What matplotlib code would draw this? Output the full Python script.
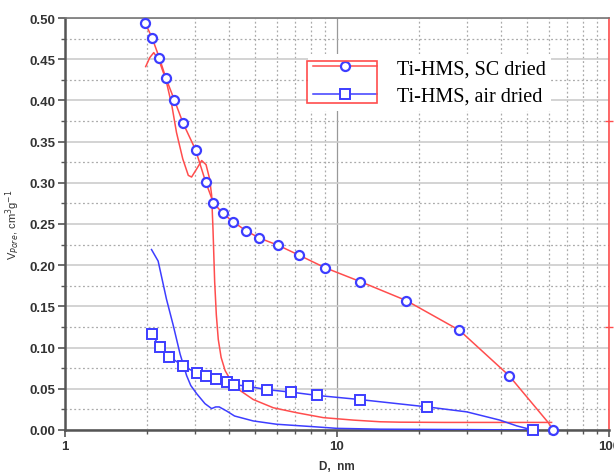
import matplotlib
matplotlib.use("Agg")
import matplotlib.pyplot as plt
from matplotlib.ticker import LogLocator, MultipleLocator, FormatStrFormatter, NullFormatter
from matplotlib.patches import Rectangle

# Ti-HMS, SC dried (marked points)
sc_d = [1.97, 2.09, 2.22, 2.35, 2.52, 2.72, 3.02, 3.29, 3.51, 3.80, 4.14, 4.62, 5.18,
        6.09, 7.27, 9.03, 12.2, 18.0, 28.2, 42.9, 59.8, 62.4]
sc_v = [0.494, 0.476, 0.452, 0.427, 0.401, 0.372, 0.340, 0.301, 0.276, 0.263, 0.253,
        0.242, 0.233, 0.224, 0.212, 0.197, 0.180, 0.157, 0.121, 0.066, 0.009, 0.0]
sc_marks = [i for i in range(len(sc_d)) if i != 20]

# Ti-HMS, SC dried (second curve, no markers)
sc2_d = [1.98, 2.05, 2.12, 2.22, 2.35, 2.47, 2.57, 2.71, 2.84, 2.92, 3.05, 3.18, 3.30,
         3.40, 3.46, 3.50, 3.55, 3.60, 3.66, 3.75, 3.88, 4.04, 4.40, 4.92, 5.83, 7.10,
         8.91, 11.5, 14.4, 17.0, 25.0, 40.0, 61.5]
sc2_v = [0.441, 0.452, 0.458, 0.448, 0.425, 0.394, 0.361, 0.329, 0.309, 0.307, 0.317,
         0.327, 0.322, 0.305, 0.285, 0.244, 0.180, 0.140, 0.110, 0.088, 0.072, 0.062,
         0.048, 0.037, 0.027, 0.021, 0.015, 0.012, 0.010, 0.0095, 0.0092, 0.0092, 0.0092]

# Ti-HMS, air dried (marked points)
air_d = [2.08, 2.24, 2.42, 2.71, 3.05, 3.29, 3.59, 3.93, 4.19, 4.72, 5.51, 6.77, 8.42,
         12.1, 21.5, 30.0, 39.7, 45.8, 52.4]
air_v = [0.116, 0.101, 0.089, 0.078, 0.069, 0.065, 0.062, 0.058, 0.055, 0.053, 0.049,
         0.046, 0.042, 0.037, 0.028, 0.022, 0.012, 0.005, 0.0]
air_marks = [i for i in range(len(air_d)) if i not in (15, 16, 17)]

# Ti-HMS, air dried (second curve, no markers)
air2_d = [2.08, 2.20, 2.36, 2.50, 2.65, 2.80, 2.90, 3.05, 3.27, 3.46, 3.58, 3.69, 3.93,
          4.20, 4.92, 5.99, 8.2, 10.0, 14.4, 30.0, 50.0]
air2_v = [0.219, 0.205, 0.159, 0.127, 0.092, 0.066, 0.054, 0.044, 0.032, 0.026, 0.028,
          0.028, 0.023, 0.017, 0.011, 0.007, 0.004, 0.002, 0.001, 0.0005, 0.0]

red = "#ff4d4d"
blue = "#3d3dff"

fig = plt.figure(figsize=(6.14, 4.77), dpi=100)
ax = fig.add_axes([65 / 614, 1 - 431 / 477, 544 / 614, 412 / 477])

ax.plot(sc2_d, sc2_v, color=red, lw=1.1, zorder=3)
ax.plot(air2_d, air2_v, color=blue, lw=1.1, zorder=3)
ax.plot(sc_d, sc_v, color=red, lw=1.1, marker="o", ms=6.5, mfc="white", mec=blue,
        mew=1.6, markevery=sc_marks, label="Ti-HMS, SC dried", zorder=4, clip_on=False)
ax.plot(air_d, air_v, color=blue, lw=1.1, marker="s", ms=7, mfc="white", mec=blue,
        mew=1.4, markevery=air_marks, label="Ti-HMS, air dried", zorder=4, clip_on=False)

ax.set_xscale("log")
ax.set_xlim(1, 100)
ax.set_ylim(0, 0.5)
ax.yaxis.set_major_locator(MultipleLocator(0.05))
ax.yaxis.set_minor_locator(MultipleLocator(0.025))
ax.yaxis.set_major_formatter(FormatStrFormatter("%.2f"))
ax.xaxis.set_major_locator(LogLocator(base=10))
ax.xaxis.set_minor_locator(LogLocator(base=10, subs=range(2, 10)))
ax.xaxis.set_minor_formatter(NullFormatter())
ax.set_xticks([1, 10, 100])
ax.set_xticklabels(["1", "10", "100"])

ax.grid(which="major", axis="y", color="#cccccc", lw=1.2, ls="-", zorder=0)
ax.grid(which="minor", axis="y", color="#aaaaaa", lw=0.9, ls=(0, (1.5, 2)), zorder=0)
ax.grid(which="major", axis="x", color="#999999", lw=0.9, ls="-", zorder=0)
ax.grid(which="minor", axis="x", color="#aaaaaa", lw=0.9, ls=(0, (1.5, 2)), zorder=0)
ax.set_axisbelow(True)

for s in ("left", "bottom"):
    ax.spines[s].set_color("#555555")
    ax.spines[s].set_linewidth(1.8)
ax.spines["top"].set_color("#777777")
ax.spines["top"].set_linewidth(1.2)
ax.spines["right"].set_color(red)
ax.spines["right"].set_linewidth(1.2)

ax.tick_params(axis="both", which="major", direction="out", length=5, width=1.2,
               color="#555555", labelsize=9.5, labelcolor="#333333", pad=2)
ax.tick_params(axis="both", which="minor", direction="out", length=3, width=1,
               color="#555555")
ax.tick_params(axis="y", which="both", right=False)
for lab in ax.get_xticklabels() + ax.get_yticklabels():
    lab.set_fontweight("bold")
    lab.set_family("Liberation Sans")

ax2 = ax.twinx()
ax2.set_ylim(0, 0.5)
ax2.set_yticks([0.125, 0.375])
ax2.set_yticklabels([])
ax2.tick_params(axis="y", direction="inout", length=6, color=red, width=1)
for s in ax2.spines.values():
    s.set_visible(False)

ax.set_xlabel("D,  nm", fontsize=8.5, fontweight="bold", color="#333333",
              family="Liberation Sans", labelpad=6)
ax.set_ylabel("V$_{Pore}$, cm$^3$g$^{-1}$", fontsize=8, color="#333333",
              family="Liberation Sans", labelpad=5)

leg = ax.legend(loc="upper left", bbox_to_anchor=(0.446, 0.912), frameon=True,
                fancybox=False, edgecolor="none", facecolor="white", framealpha=1,
                prop={"family": "Liberation Serif", "size": 14.5},
                handlelength=3.2, handletextpad=1.0, labelspacing=0.42,
                borderpad=0.25, borderaxespad=0)
leg.set_zorder(5)
ax.add_patch(Rectangle((0.445, 0.794), 0.129, 0.102, transform=ax.transAxes, fill=False,
                       edgecolor=red, lw=1.2, zorder=6))

fig.savefig("out.png", dpi=100)
